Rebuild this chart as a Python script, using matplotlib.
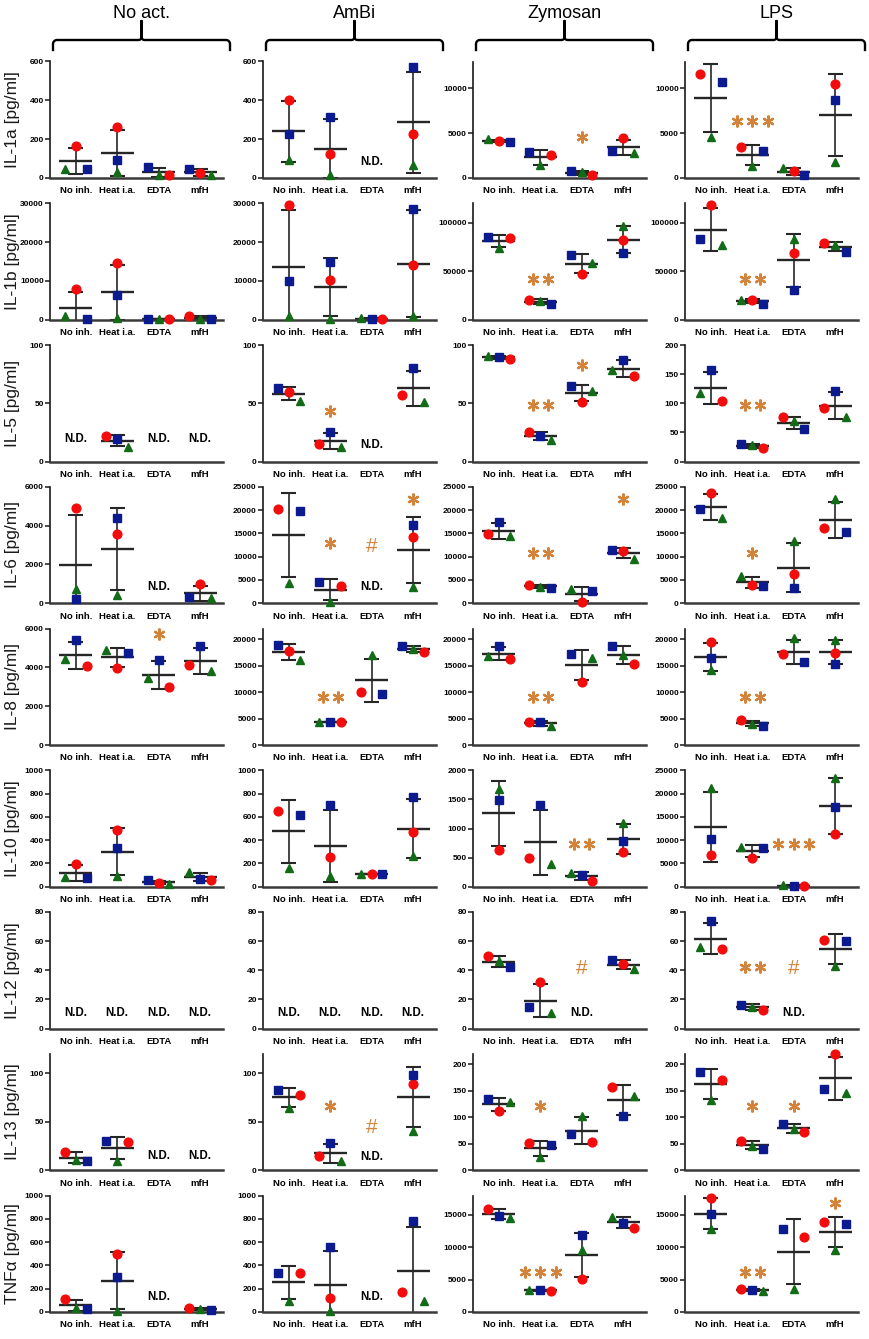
import numpy as np
import matplotlib
matplotlib.use('Agg')
import matplotlib.pyplot as plt
from matplotlib.lines import Line2D

nan = np.nan

cytokines = ['IL-1a', 'IL-1b', 'IL-5', 'IL-6', 'IL-8', 'IL-10', 'IL-12', 'IL-13', 'TNFα']
stimuli = ['No act.', 'AmBi', 'Zymosan', 'LPS']
inhibitors = ['No inh.', 'Heat i.a.', 'EDTA', 'mfH']

# one list per cytokine and donor: rows = stimulus, columns = inhibitor (nan = N.D.)
il1a_red = [[165, 262, 15, 26], [403, 123, nan, 225], [4155, 2610, 294, 4411], [11580, 3456, 735, 10478]]
il1a_blue = [[46, 92, 55, 46], [226, 314, nan, 574], [4044, 2941, 735, 3051], [10662, 3015, 294, 8676]]
il1a_green = [[48, 31, 18, 14], [91, 14, nan, 65], [4300, 1397, 625, 2831], [4559, 1287, 1066, 1801]]

il1b_red = [[7892, 14571, 100, 900], [29570, 10150, 200, 14000], [84030, 20490, 47220, 81940], [118400, 20200, 69100, 78820]]
il1b_blue = [[174, 6245, 200, 280], [10060, 14870, 300, 28500], [85070, 15970, 66670, 68750], [83680, 16670, 30560, 69790]]
il1b_green = [[954, 520, 150, 320], [875, 262, 350, 900], [73960, 19440, 58680, 96530], [76740, 20500, 83680, 77430]]

il5_red = [[nan, 22, nan, nan], [59.8, 15, nan, 56.9], [88, 25.1, 51.0, 73.4], [104.6, 23.1, 75.7, 91.9]]
il5_blue = [[nan, 19, nan, nan], [62.9, 25.2, nan, 79.9], [89.8, 22.3, 64.7, 87.3], [157.8, 30, 55.5, 120.8]]
il5_green = [[nan, 12.4, nan, nan], [51.8, 12.5, nan, 51.3], [90.2, 18.5, 60.1, 78.3], [117.9, 27.7, 68.8, 75.7]]

il6_red = [[4928, 3579, nan, 969], [20130, 3710, nan, 14240], [14820, 4000, 360, 11270], [23690, 4000, 6320, 16060]]
il6_blue = [[207, 4375, nan, 329], [19700, 4580, nan, 16790], [17510, 3340, 2540, 11340], [20200, 3710, 3200, 15190]]
il6_green = [[750, 415, nan, 277], [4290, 290, nan, 3420], [14390, 3560, 3050, 9450], [18200, 5810, 13440, 22380]]

il8_red = [[4052, 3965, 2991, 4104], [17760, 4350, 10100, 17640], [16290, 4350, 11950, 15340], [19360, 4660, 17120, 17380]]
il8_blue = [[5391, 4730, 4383, 5078], [18910, 4380, 9710, 18720], [18660, 4280, 17120, 18660], [16420, 3640, 15660, 15340]]
il8_green = [[4435, 4870, 3443, 3791], [15980, 4420, 16930, 18150], [16810, 3580, 16490, 17060], [14180, 3960, 20130, 19810]]

il10_red = [[195, 486, 34, 62], [650, 254, 111, 469], [627, 486, 107, 593], [6890, 6200, 100, 11290]]
il10_blue = [[76, 331, 54, 68], [616, 698, 108, 768], [1492, 1407, 209, 785], [10300, 8300, 200, 17190]]
il10_green = [[85, 90, 25, 124], [161, 96, 113, 260], [1672, 390, 232, 1102], [21230, 8500, 400, 23440]]

il12_red = [[nan, nan, nan, nan], [nan, nan, nan, nan], [49.7, 31.9, nan, 44], [54.9, 12.8, nan, 60.6]]
il12_blue = [[nan, nan, nan, nan], [nan, nan, nan, nan], [42.1, 14.8, nan, 46.7], [74, 16.4, nan, 60.1]]
il12_green = [[nan, nan, nan, nan], [nan, nan, nan, nan], [46.2, 10.9, nan, 41], [56, 15, nan, 42.8]]

il13_red = [[19.1, 28.7, nan, nan], [78, 14.7, nan, 88.4], [111, 51, 53, 157], [170, 55.7, 71.5, 220]]
il13_blue = [[9.6, 30.4, nan, nan], [83, 28.4, nan, 98.3], [134, 47.5, 69, 102], [186, 40.5, 88, 154]]
il13_green = [[10.2, 9.9, nan, nan], [64, 9.6, nan, 40], [129, 25.3, 103, 140], [132, 46.2, 78.5, 146]]

tnf_red = [[112, 496, nan, 35], [331, 121, nan, 170], [15930, 3320, 5140, 13050], [17570, 3550, 11560, 13870]]
tnf_blue = [[29, 303, nan, 20], [337, 562, nan, 784], [14900, 3340, 11820, 13820], [15150, 3440, 12850, 13560]]
tnf_green = [[35, 12, nan, 24], [92, 12, nan, 92], [14490, 3360, 9610, 14640], [12800, 3290, 3550, 9610]]

reds = [il1a_red, il1b_red, il5_red, il6_red, il8_red, il10_red, il12_red, il13_red, tnf_red]
blues = [il1a_blue, il1b_blue, il5_blue, il6_blue, il8_blue, il10_blue, il12_blue, il13_blue, tnf_blue]
greens = [il1a_green, il1b_green, il5_green, il6_green, il8_green, il10_green, il12_green, il13_green, tnf_green]

# axis top and tick step per panel
ytops = [[600, 600, 13000, 13000], [30000, 30000, 120000, 120000], [100, 100, 100, 200],
         [6000, 25000, 25000, 25000], [6000, 22000, 22000, 22000], [1000, 1000, 2000, 25000],
         [80, 80, 80, 80], [120, 120, 220, 220], [1000, 1000, 18000, 18000]]
ysteps = [[200, 200, 5000, 5000], [10000, 10000, 50000, 50000], [50, 50, 50, 50],
          [2000, 5000, 5000, 5000], [2000, 5000, 5000, 5000], [200, 200, 500, 5000],
          [20, 20, 20, 20], [50, 50, 50, 50], [200, 200, 5000, 5000]]

# significance marks: (cytokine, stimulus, inhibitor, number of stars, y)
stars = [(0, 2, 2, 1, 4600), (0, 3, 1, 3, 6400),
         (1, 2, 1, 2, 41700), (1, 3, 1, 2, 41700),
         (2, 1, 1, 1, 43.3), (2, 2, 1, 2, 48.6), (2, 2, 2, 1, 82.7), (2, 3, 1, 2, 97),
         (3, 1, 1, 1, 12870), (3, 1, 3, 1, 22380), (3, 2, 1, 2, 10680), (3, 2, 3, 1, 22400), (3, 3, 1, 1, 10680),
         (4, 0, 2, 1, 5700), (4, 1, 1, 2, 9140), (4, 2, 1, 2, 9140), (4, 3, 1, 2, 9140),
         (5, 2, 2, 2, 729), (5, 3, 2, 3, 9160),
         (6, 3, 1, 2, 42),
         (7, 1, 1, 1, 65.8), (7, 2, 1, 1, 122), (7, 3, 1, 1, 122), (7, 3, 2, 1, 122),
         (8, 2, 1, 3, 6170), (8, 3, 1, 2, 6170), (8, 3, 3, 1, 16800)]
hashes = [(3, 1, 2, 12140), (6, 2, 2, 41), (6, 3, 2, 41), (7, 1, 2, 44.5)]
not_detected = [(0, 1, 2, 82), (2, 0, 0, 19), (2, 0, 2, 19), (2, 0, 3, 19), (2, 1, 2, 14.4),
                (3, 0, 2, 813), (3, 1, 2, 3420),
                (6, 0, 0, 10.5), (6, 0, 1, 10.5), (6, 0, 2, 10.5), (6, 0, 3, 10.5),
                (6, 1, 0, 10.5), (6, 1, 1, 10.5), (6, 1, 2, 10.5), (6, 1, 3, 10.5),
                (6, 2, 2, 10.5), (6, 3, 2, 10.5),
                (7, 0, 2, 15), (7, 0, 3, 15), (7, 1, 2, 13.7),
                (8, 0, 2, 127), (8, 1, 2, 127)]

RED, BLUE, GREEN = '#f20c0c', '#0b1a8f', '#126b16'
ORANGE = '#d4843a'
LINE = '#262626'

plt.rcParams['font.family'] = ['Liberation Sans', 'DejaVu Sans']

W, H = 870, 1339
fig = plt.figure(figsize=(W / 100, H / 100), dpi=100)

col_left = [50, 263, 473, 685]
ax_w, ax_h = 173, 116.5
row_bottom = [178 + 141.75 * i for i in range(9)]
dx = 0.26


def swarm_offsets(vals, px_per_unit, thr=9.5):
    # spread overlapping points sideways, like a column scatter plot
    idx = [k for k in range(len(vals)) if not np.isnan(vals[k])]
    idx.sort(key=lambda k: -vals[k])
    groups = []
    for k in idx:
        if groups and (vals[groups[-1][-1]] - vals[k]) * px_per_unit < thr:
            groups[-1].append(k)
        else:
            groups.append([k])
    offs = {}
    for g in groups:
        n = len(g)
        if n == 1:
            steps = [0]
        elif n == 2:
            steps = [-1, 1]
        else:
            steps = list(np.arange(n) - (n - 1) / 2)
        for k, s in zip(g, steps):
            offs[k] = s
    return offs


axes = {}
for i in range(9):
    for j in range(4):
        ax = fig.add_axes([col_left[j] / W, 1 - row_bottom[i] / H, ax_w / W, ax_h / H])
        axes[(i, j)] = ax
        top, step = ytops[i][j], ysteps[i][j]
        ax.set_ylim(0, top)
        ax.set_xlim(-0.62, 3.55)
        for s in ['top', 'right']:
            ax.spines[s].set_visible(False)
        ax.spines['left'].set_linewidth(1.2)
        ax.spines['left'].set_color('#1a1a1a')
        ax.spines['bottom'].set_linewidth(1.8)
        ax.spines['bottom'].set_color('#3a3a3a')
        ticks = np.arange(0, top + 1, step)
        ax.set_yticks(ticks)
        ax.set_yticklabels([str(int(t)) for t in ticks], fontsize=6.0, fontweight='bold')
        ax.set_xticks(range(4))
        ax.set_xticklabels(inhibitors, fontsize=6.8, fontweight='bold')
        ax.tick_params(axis='y', length=3.5, width=1.1, pad=1.0, color='#1a1a1a')
        ax.tick_params(axis='x', length=0, pad=6)

        for c in range(4):
            vals = [reds[i][j][c], blues[i][j][c], greens[i][j][c]]
            vals = [float(v) for v in vals]
            if all(np.isnan(v) for v in vals):
                continue
            offs = swarm_offsets(vals, ax_h / top)
            m = np.nanmean(vals)
            sd = np.nanstd(vals, ddof=1)
            ax.hlines(m, c - 0.4, c + 0.4, color=LINE, lw=1.7, zorder=2)
            ax.vlines(c, m - sd, m + sd, color=LINE, lw=1.2, zorder=2)
            ax.hlines([m - sd, m + sd], c - 0.18, c + 0.18, color=LINE, lw=1.5, zorder=2)
            for k, (colr, mk, ms) in enumerate([(RED, 'o', 6.3), (BLUE, 's', 5.6), (GREEN, '^', 6.0)]):
                if np.isnan(vals[k]):
                    continue
                ax.plot(c + offs[k] * dx, vals[k], marker=mk, ms=ms, color=colr,
                        mec=colr, ls='none', zorder=3, clip_on=False)

for i, j, c, n, y in stars:
    ax = axes[(i, j)]
    for k in range(n):
        ax.plot(c + (k - (n - 1) / 2) * 0.37, y, marker=(6, 2, 0), ms=8.5, mew=1.6,
                color=ORANGE, ls='none', zorder=4, clip_on=False)

for i, j, c, y in hashes:
    axes[(i, j)].text(c, y, '#', color=ORANGE, fontsize=15, ha='center', va='center')

for i, j, c, y in not_detected:
    axes[(i, j)].text(c, y, 'N.D.', color='black', fontsize=8.3, fontweight='bold',
                      ha='center', va='center')

# row labels
for i, name in enumerate(cytokines):
    yc = row_bottom[i] - ax_h / 2
    fig.text(13 / W, 1 - yc / H, f'{name} [pg/ml]', rotation=90, ha='center', va='center',
             fontsize=12.5, color='#1a1a1a')


def brace_points(x0, x1, y_end=50, y_bar=40, y_tip=21, r=4, r2=3):
    xc = (x0 + x1) / 2
    t = np.linspace(np.pi, np.pi / 2, 10)
    left = np.c_[x0 + r + r * np.cos(t), y_bar + r - r * np.sin(t)]
    t2 = np.linspace(-np.pi / 2, 0, 8)
    mid = np.c_[xc - r2 + r2 * np.cos(t2), y_bar - r2 - r2 * np.sin(t2)]
    half = np.vstack([[x0, y_end], left, mid, [xc, y_tip]])
    other = half[::-1].copy()
    other[:, 0] = 2 * xc - other[:, 0]
    return np.vstack([half, other])


for j, name in enumerate(stimuli):
    x0 = col_left[j] + 3
    x1 = col_left[j] + 180
    pts = brace_points(x0, x1)
    fig.add_artist(Line2D(pts[:, 0] / W, 1 - pts[:, 1] / H, transform=fig.transFigure,
                          color='black', lw=1.7, solid_joinstyle='round'))
    fig.text((x0 + x1) / 2 / W, 1 - 13 / H, name, ha='center', va='center', fontsize=13)

fig.savefig('out.png', dpi=100)
